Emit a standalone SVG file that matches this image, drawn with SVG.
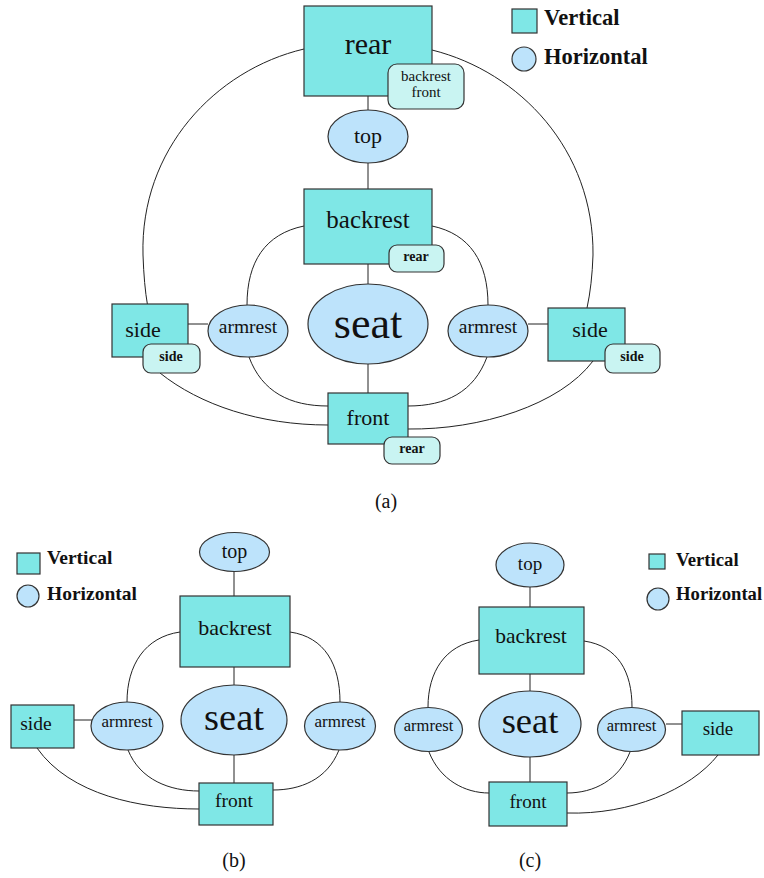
<svg xmlns="http://www.w3.org/2000/svg" width="764" height="878" viewBox="0 0 764 878">
<style>
.v{fill:#7fe7e6;stroke:#333;stroke-width:1.2}
.h{fill:#bde3fb;stroke:#333;stroke-width:1.2}
.tag{fill:#c9f4f2;stroke:#333;stroke-width:1.2}
.c{fill:none;stroke:#222;stroke-width:1}
text{font-family:"Liberation Serif",serif;fill:#111;text-anchor:middle}
.b{font-weight:bold}
.lg{font-weight:bold;text-anchor:start}
.cap{font-size:20px}
</style>
<rect width="764" height="878" fill="#fff"/>

<!-- Panel (a) connectors -->
<g id="connectors-a">
<path class="c" d="M368,96 V110 M368,163 V189 M368,264 V284 M368,364 V393 M188,324 H208 M528,324 H548"/>
<path class="c" d="M304,49 C215,70 140,150 143,255 Q144,285 147.5,305"/>
<path class="c" d="M432,50 C520,72 594,150 593,255 Q592,285 587,308"/>
<path class="c" d="M304,226 C265,234 247,262 247,305"/>
<path class="c" d="M432,226 C470,234 488,262 488,305"/>
<path class="c" d="M249,357 C262,392 290,406 328,406"/>
<path class="c" d="M487,357 C474,392 446,406 408,406"/>
<path class="c" d="M160,373 C200,405 260,425 328,425"/>
<path class="c" d="M593,361 C560,405 480,430 408,429"/>
</g>

<g id="a-rear"><rect class="v" x="304" y="6" width="128" height="90"/><text x="368" y="54" font-size="30">rear</text>
<rect class="tag" x="388" y="64" width="76" height="45" rx="9"/><text x="426" y="81" font-size="15">backrest</text><text x="426" y="97" font-size="15">front</text></g>
<g id="a-top"><ellipse class="h" cx="368" cy="136.5" rx="40" ry="26.5"/><text x="368" y="143" font-size="22">top</text></g>
<g id="a-backrest"><rect class="v" x="304" y="189" width="128" height="75"/><text x="368" y="228" font-size="25">backrest</text>
<rect class="tag" x="389" y="245" width="55" height="27" rx="8"/><text x="416" y="261" font-size="14" class="b">rear</text></g>
<g id="a-seat"><ellipse class="h" cx="368" cy="324" rx="60" ry="40"/><text x="368" y="338" font-size="44">seat</text></g>
<g id="a-armrest-l"><ellipse class="h" cx="248" cy="331" rx="40" ry="26"/><text x="248" y="333" font-size="19.5">armrest</text></g>
<g id="a-armrest-r"><ellipse class="h" cx="488" cy="331" rx="40" ry="26"/><text x="488" y="333" font-size="19.5">armrest</text></g>
<g id="a-side-l"><rect class="v" x="112" y="304" width="76" height="53"/><text x="143" y="337" font-size="22">side</text>
<rect class="tag" x="143" y="344" width="57" height="29" rx="8"/><text x="171" y="361" font-size="14" class="b">side</text></g>
<g id="a-side-r"><rect class="v" x="548" y="308" width="77" height="53"/><text x="590" y="337" font-size="22">side</text>
<rect class="tag" x="605" y="344" width="55" height="29" rx="8"/><text x="632" y="361" font-size="14" class="b">side</text></g>
<g id="a-front"><rect class="v" x="328" y="393" width="80" height="51"/><text x="368" y="425" font-size="22">front</text>
<rect class="tag" x="384" y="437" width="56" height="27" rx="8"/><text x="412" y="453" font-size="14" class="b">rear</text></g>
<g id="a-legend"><rect class="v" x="512" y="9" width="25" height="24"/><text class="lg" x="544" y="25" font-size="22.5">Vertical</text>
<circle class="h" cx="524" cy="59" r="12"/><text class="lg" x="544" y="64" font-size="22.5">Horizontal</text></g>
<text class="cap" x="386" y="508">(a)</text>

<!-- Panel (b) -->
<g id="connectors-b">
<path class="c" d="M234,572 V596 M234,667 V685 M234,755 V783 M74,720 H92"/>
<path class="c" d="M180,632 C145,637 127,665 127,702"/>
<path class="c" d="M290,632 C325,637 340,665 340,702"/>
<path class="c" d="M128,750 C140,780 170,791 199,791"/>
<path class="c" d="M339,750 C327,780 300,790 273,790"/>
<path class="c" d="M37,748 C70,795 140,809 199,809"/>
</g>
<g id="b-top"><ellipse class="h" cx="234.5" cy="552" rx="35" ry="19.5"/><text x="234.5" y="558" font-size="20">top</text></g>
<g id="b-backrest"><rect class="v" x="180" y="596" width="110" height="71"/><text x="235" y="635" font-size="22">backrest</text></g>
<g id="b-seat"><ellipse class="h" cx="234" cy="720" rx="53" ry="35"/><text x="234" y="730" font-size="38.5">seat</text></g>
<g id="b-armrest-l"><ellipse class="h" cx="127" cy="726" rx="36" ry="24"/><text x="127" y="727" font-size="17">armrest</text></g>
<g id="b-armrest-r"><ellipse class="h" cx="340" cy="726" rx="35.5" ry="24"/><text x="340" y="727" font-size="17">armrest</text></g>
<g id="b-side"><rect class="v" x="11" y="705" width="63" height="43"/><text x="36" y="730" font-size="19.5">side</text></g>
<g id="b-front"><rect class="v" x="199" y="783" width="74" height="42"/><text x="234" y="807" font-size="19.5">front</text></g>
<g id="b-legend"><rect class="v" x="17" y="553" width="23" height="21"/><text class="lg" x="47" y="564" font-size="19.5">Vertical</text>
<circle class="h" cx="28" cy="596" r="11"/><text class="lg" x="47" y="600" font-size="19.5">Horizontal</text></g>
<text class="cap" x="234" y="867">(b)</text>

<!-- Panel (c) -->
<g id="connectors-c">
<path class="c" d="M530,587 V607 M530,674 V691 M530,757 V782 M666,724 H682"/>
<path class="c" d="M479,640 C445,645 428,672 428,707"/>
<path class="c" d="M584,641 C618,646 632,672 632,707"/>
<path class="c" d="M429,752 C440,780 465,793 489,793"/>
<path class="c" d="M630,752 C619,780 594,793 567,793"/>
<path class="c" d="M718,755 C690,790 630,815 567,813"/>
</g>
<g id="c-top"><ellipse class="h" cx="530" cy="565" rx="34" ry="22"/><text x="530" y="570" font-size="19">top</text></g>
<g id="c-backrest"><rect class="v" x="479" y="607" width="105" height="67"/><text x="531" y="643" font-size="21.5">backrest</text></g>
<g id="c-seat"><ellipse class="h" cx="530" cy="724" rx="51" ry="33"/><text x="530" y="733" font-size="36.5">seat</text></g>
<g id="c-armrest-l"><ellipse class="h" cx="428.5" cy="729.5" rx="34" ry="22"/><text x="428.5" y="731" font-size="16.5">armrest</text></g>
<g id="c-armrest-r"><ellipse class="h" cx="631.5" cy="729.5" rx="34" ry="22"/><text x="631.5" y="731" font-size="16.5">armrest</text></g>
<g id="c-side"><rect class="v" x="682" y="711" width="77" height="44"/><text x="718" y="735" font-size="19">side</text></g>
<g id="c-front"><rect class="v" x="489" y="782" width="78" height="44"/><text x="528" y="808" font-size="19">front</text></g>
<g id="c-legend"><rect class="v" x="649" y="554" width="16" height="15"/><text class="lg" x="676" y="566" font-size="18.7">Vertical</text>
<circle class="h" cx="658" cy="599" r="11"/><text class="lg" x="676" y="600" font-size="18.7">Horizontal</text></g>
<text class="cap" x="530" y="867">(c)</text>
</svg>
